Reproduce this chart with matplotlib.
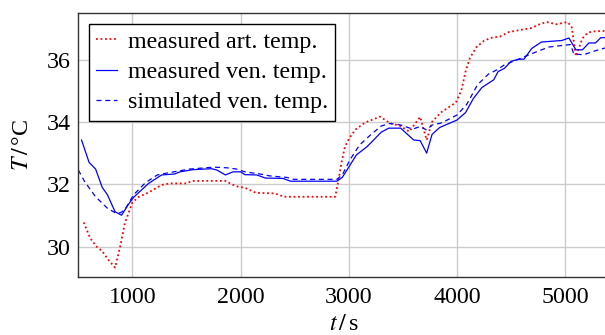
import matplotlib
matplotlib.use("Agg")
import matplotlib.pyplot as plt

# measured arterial temperature (red dotted)
t_art = [550, 610, 670, 720, 780, 840, 890, 930, 1000, 1060, 1150, 1270, 1350, 1500,
         1550, 1860, 1920, 1980, 2040, 2140, 2300, 2340, 2400, 2875, 2905, 2935, 2965,
         3000, 3060, 3150, 3290, 3380, 3470, 3560, 3610, 3660, 3720, 3770, 3850, 3990,
         4040, 4080, 4120, 4180, 4250, 4310, 4400, 4480, 4590, 4690, 4770, 4830, 4920,
         5020, 5060, 5100, 5160, 5210, 5260, 5400]
T_art = [30.78, 30.27, 30.0, 29.86, 29.57, 29.33, 30.05, 30.75, 31.42, 31.60, 31.74,
         31.98, 32.03, 32.03, 32.11, 32.11, 32.0, 31.92, 31.89, 31.73, 31.71, 31.68,
         31.60, 31.60, 32.14, 32.73, 33.21, 33.45, 33.75, 33.98, 34.17, 33.96, 33.88,
         33.69, 33.93, 34.16, 33.42, 34.0, 34.30, 34.62, 35.0, 35.62, 36.05, 36.40,
         36.60, 36.69, 36.74, 36.88, 36.95, 37.01, 37.14, 37.20, 37.13, 37.20, 37.06,
         36.10, 36.68, 36.86, 36.90, 36.92]

# measured venous temperature (blue solid)
t_ven = [530, 600, 660, 720, 770, 840, 900, 960, 1010, 1150, 1270, 1390, 1440, 1560,
         1730, 1780, 1860, 1930, 2000, 2040, 2150, 2230, 2390, 2460, 2890, 2940, 3000,
         3070, 3170, 3300, 3370, 3480, 3600, 3660, 3720, 3770, 3840, 4000, 4080, 4150,
         4230, 4300, 4340, 4380, 4440, 4500, 4570, 4620, 4690, 4780, 4970, 5035, 5100,
         5160, 5220, 5280, 5330, 5400]
T_ven = [33.42, 32.70, 32.49, 31.91, 31.66, 31.12, 31.01, 31.34, 31.58, 32.03, 32.30,
         32.33, 32.40, 32.47, 32.50, 32.46, 32.30, 32.40, 32.40, 32.31, 32.30, 32.20,
         32.19, 32.10, 32.10, 32.22, 32.55, 32.94, 33.21, 33.67, 33.80, 33.80, 33.42,
         33.40, 33.0, 33.60, 33.82, 34.06, 34.30, 34.74, 35.10, 35.26, 35.35, 35.61,
         35.72, 35.94, 36.01, 36.01, 36.35, 36.56, 36.61, 36.69, 36.31, 36.31, 36.53,
         36.53, 36.70, 36.70]

# simulated venous temperature (blue dashed)
t_sim = [500, 560, 660, 770, 850, 890, 930, 1010, 1120, 1230, 1350, 1530, 1750, 1870,
         1960, 2040, 2180, 2270, 2430, 2490, 2890, 2940, 3010, 3100, 3200, 3300, 3380,
         3480, 3590, 3660, 3720, 3770, 3850, 3910, 4000, 4090, 4190, 4290, 4370, 4440,
         4570, 4630, 4760, 4850, 5050, 5080, 5170, 5260, 5400]
T_sim = [32.46, 32.08, 31.60, 31.23, 31.07, 31.09, 31.18, 31.66, 32.05, 32.30, 32.38,
         32.49, 32.55, 32.53, 32.49, 32.40, 32.33, 32.27, 32.22, 32.16, 32.16, 32.30,
         32.78, 33.26, 33.58, 33.87, 33.95, 33.90, 33.77, 33.85, 33.74, 33.90, 33.96,
         34.06, 34.22, 34.56, 35.19, 35.53, 35.67, 35.83, 36.01, 36.10, 36.28, 36.40,
         36.48, 36.18, 36.15, 36.26, 36.40]

x_ticks = [1000, 2000, 3000, 4000, 5000]
y_ticks = [30, 32, 34, 36]

plt.rcParams['font.family'] = ['Liberation Serif', 'DejaVu Serif']
plt.rcParams['mathtext.fontset'] = 'stix'
plt.rcParams['font.size'] = 17.3

fig = plt.figure(figsize=(6.05, 3.35), dpi=100)
ax = fig.add_axes([78.3 / 605, 1 - 277.3 / 335, (608.4 - 78.3) / 605, (277.3 - 12.7) / 335])

ax.plot(t_art, T_art, color='red', lw=1.3, linestyle=(0, (1, 1.5)), label='measured art. temp.')
ax.plot(t_ven, T_ven, color='blue', lw=0.9, label='measured ven. temp.')
ax.plot(t_sim, T_sim, color='blue', lw=0.9, linestyle=(0, (4, 3)), label='simulated ven. temp.')

ax.set_xlim(500, 5400)
ax.set_ylim(29.02, 37.5)
ax.set_xticks(x_ticks)
ax.set_yticks(y_ticks)
ax.tick_params(axis='x', length=0, pad=7)
ax.tick_params(axis='y', length=0, pad=5.5)
ax.grid(True, color='#cccccc', lw=1.0)
ax.set_axisbelow(True)
for s in ax.spines.values():
    s.set_color('#333333')
    s.set_linewidth(1.0)

ax.set_xlabel(r'$t\,/\,$s', labelpad=4)
ax.set_ylabel(r'$T\,/\,$°C', labelpad=10)

leg = ax.legend(loc='upper left', handlelength=0.85, borderaxespad=0.45,
                fancybox=False, framealpha=1, edgecolor='black',
                labelspacing=0.36, borderpad=0.3, handletextpad=0.45)
leg.get_frame().set_linewidth(1.0)

fig.savefig('out.png', dpi=100)
